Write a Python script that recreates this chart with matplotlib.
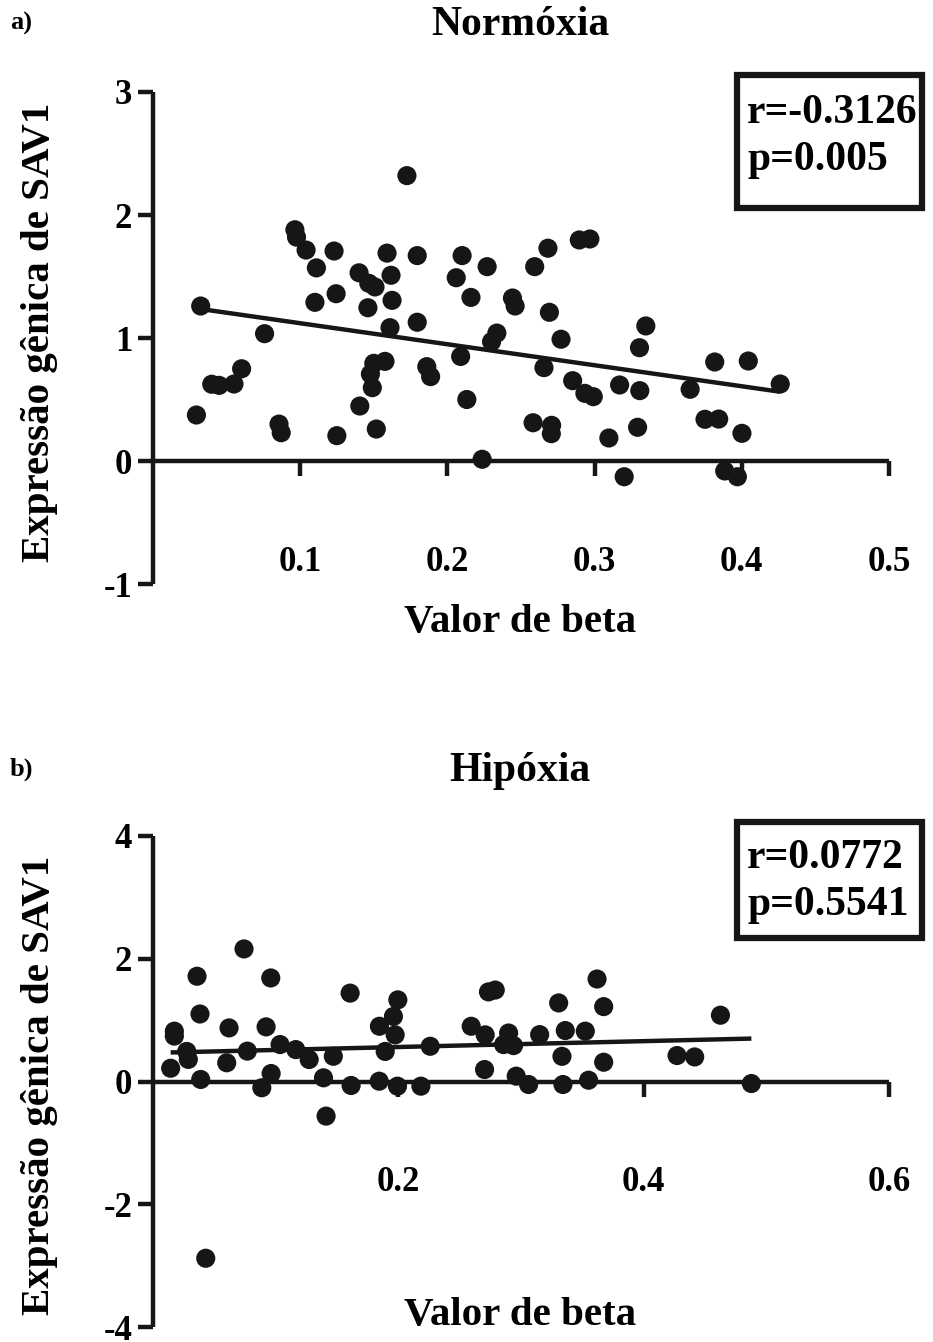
import numpy as np
import matplotlib
matplotlib.use("Agg")
import matplotlib.pyplot as plt
from matplotlib.patches import Rectangle

plt.rcParams['font.family'] = ['Liberation Serif', 'DejaVu Serif']
plt.rcParams['font.weight'] = 'bold'

# ---- Data: Normóxia ----
norm_beta = [0.1725, 0.0964, 0.0975, 0.104, 0.123, 0.111, 0.159, 0.1795, 0.210, 0.227,
             0.140, 0.1617, 0.1466, 0.1508, 0.206, 0.216, 0.110, 0.1244, 0.1624, 0.146,
             0.1795, 0.161, 0.0324, 0.0758, 0.2300, 0.209, 0.1576, 0.150, 0.1477, 0.149,
             0.186, 0.1886, 0.0602, 0.055, 0.0449, 0.0399, 0.2132, 0.1405, 0.0295, 0.0856,
             0.0871, 0.1517, 0.1249, 0.2236, 0.2683, 0.2593, 0.2896, 0.2968, 0.2442, 0.246,
             0.2693, 0.2772, 0.2336, 0.3348, 0.3305, 0.2656, 0.2851, 0.2934, 0.2991, 0.317,
             0.3307, 0.3649, 0.3816, 0.4044, 0.4261, 0.2582, 0.2708, 0.2706, 0.3097, 0.3292,
             0.375, 0.3843, 0.4001, 0.3201, 0.3884, 0.397]
norm_sav1 = [2.32, 1.88, 1.82, 1.715, 1.707, 1.57, 1.69, 1.67, 1.67, 1.58,
             1.53, 1.51, 1.445, 1.415, 1.49, 1.33, 1.29, 1.36, 1.306, 1.246,
             1.128, 1.084, 1.26, 1.035, 0.97, 0.85, 0.81, 0.794, 0.707, 0.596,
             0.767, 0.686, 0.75, 0.626, 0.615, 0.624, 0.50, 0.447, 0.374, 0.30,
             0.23, 0.26, 0.206, 0.014, 1.73, 1.58, 1.797, 1.805, 1.325, 1.26,
             1.209, 0.99, 1.04, 1.098, 0.921, 0.759, 0.653, 0.55, 0.523, 0.618,
             0.572, 0.583, 0.805, 0.813, 0.626, 0.311, 0.29, 0.222, 0.187, 0.274,
             0.339, 0.341, 0.225, -0.128, -0.081, -0.128]

# ---- Data: Hipóxia ----
hip_beta = [0.0742, 0.0359, 0.096, 0.0383, 0.062, 0.0922, 0.0174, 0.0174, 0.0275, 0.0288,
            0.0144, 0.0389, 0.0601, 0.0769, 0.1036, 0.1164, 0.1273, 0.147, 0.0963, 0.0887,
            0.139, 0.1411, 0.1607, 0.1996, 0.196, 0.1846, 0.1974, 0.1893, 0.226, 0.1615,
            0.1844, 0.1993, 0.2184, 0.2735, 0.279, 0.2594, 0.2708, 0.2703, 0.2858, 0.2939,
            0.2899, 0.3152, 0.3307, 0.3361, 0.3524, 0.362, 0.3674, 0.3334, 0.3674, 0.2961,
            0.3062, 0.3342, 0.3551, 0.4272, 0.4416, 0.4626, 0.4878, 0.043]
hip_sav1 = [2.16, 1.715, 1.687, 1.10, 0.873, 0.89, 0.82, 0.74, 0.49, 0.36,
            0.216, 0.033, 0.305, 0.495, 0.602, 0.52, 0.358, 0.411, 0.13, -0.102,
            0.06, -0.564, 1.44, 1.33, 1.06, 0.90, 0.76, 0.49, 0.574, -0.065,
            0.005, -0.076, -0.076, 1.46, 1.49, 0.90, 0.76, 0.195, 0.602, 0.585,
            0.79, 0.764, 1.28, 0.83, 0.82, 1.67, 1.22, 0.41, 0.314, 0.087,
            -0.049, -0.049, 0.021, 0.423, 0.40, 1.08, -0.033, -2.88]

panels = [
    dict(letter="a)", title="Normóxia", x=norm_beta, y=norm_sav1,
         xlim=(0, 0.5), ylim=(-1, 3), xticks=[0.1, 0.2, 0.3, 0.4, 0.5],
         yticks=[-1, 0, 1, 2, 3], stats=["r=-0.3126", "p=0.005"]),
    dict(letter="b)", title="Hipóxia", x=hip_beta, y=hip_sav1,
         xlim=(0, 0.6), ylim=(-4, 4), xticks=[0.2, 0.4, 0.6],
         yticks=[-4, -2, 0, 2, 4], stats=["r=0.0772", "p=0.5541"]),
]

W, H = 933, 1342
fig = plt.figure(figsize=(W / 100, H / 100), dpi=100)
fig.patch.set_facecolor('white')

def fx(px):
    return px / W

def fy(py):
    return 1 - py / H

layouts = [
    dict(ax=(153, 889, 92, 584), title_y=25, box=(737, 922, 75, 208), lines_y=(113, 160),
         xl_y=622, yl_c=332),
    dict(ax=(153, 889, 836, 1327), title_y=771, box=(737, 922, 822, 938), lines_y=(858, 905),
         xl_y=1316, yl_c=1085),
]

ink = '#161616'
for p, L in zip(panels, layouts):
    l, r, t, b = L['ax']
    ax = fig.add_axes([fx(l), fy(b), fx(r) - fx(l), fy(t) - fy(b)])
    x = np.array(p['x'])
    y = np.array(p['y'])
    ax.scatter(x, y, s=190, color=ink, edgecolors='none', zorder=3, clip_on=False)
    slope, intercept = np.polyfit(x, y, 1)
    xx = np.array([x.min(), x.max()])
    ax.plot(xx, slope * xx + intercept, color=ink, lw=3.2, zorder=2,
            solid_capstyle='butt')
    ax.set_xlim(*p['xlim'])
    ax.set_ylim(*p['ylim'])
    for s in ['top', 'right']:
        ax.spines[s].set_visible(False)
    ax.spines['bottom'].set_position(('data', 0))
    ax.spines['bottom'].set_bounds(*p['xlim'])
    ax.spines['left'].set_bounds(*p['ylim'])
    for s in ['bottom', 'left']:
        ax.spines[s].set_linewidth(3.2)
        ax.spines[s].set_color(ink)
        ax.spines[s].set_capstyle('butt')
    ax.set_xticks(p['xticks'])
    ax.set_yticks(p['yticks'])
    ax.set_xticklabels([f"{v:g}" for v in p['xticks']])
    ax.set_yticklabels([f"{v:g}" for v in p['yticks']])
    ax.tick_params(axis='x', direction='out', length=11, width=3.2, color=ink,
                   labelsize=25, pad=50)
    ax.tick_params(axis='y', direction='out', length=11, width=3.2, color=ink,
                   labelsize=25, pad=4)
    for lab in ax.get_xticklabels() + ax.get_yticklabels():
        lab.set_fontweight('bold')
    ax.patch.set_alpha(0)

    ax.set_xlabel("Valor de beta", fontsize=29.5, fontweight='bold')
    ax.set_ylabel("Expressão gênica de SAV1", fontsize=29.5, fontweight='bold')
    ax.xaxis.set_label_coords((520 - l) / (r - l), (b - L['xl_y']) / (b - t))
    ax.xaxis.label.set_verticalalignment('center')
    ax.yaxis.set_label_coords((40 - l) / (r - l), (b - L['yl_c']) / (b - t))
    ax.yaxis.label.set_verticalalignment('center')

    fig.text(fx(520), fy(L['title_y']), p['title'], fontsize=30, fontweight='bold',
             ha='center', va='center')
    fig.text(fx(10), fy(L['title_y'] - 2), p['letter'], fontsize=19, fontweight='bold',
             ha='left', va='center')

    bx0, bx1, by0, by1 = L['box']
    fig.patches.append(Rectangle((fx(bx0), fy(by1)), fx(bx1) - fx(bx0), fy(by0) - fy(by1),
                                 transform=fig.transFigure, fill=False, lw=4.5,
                                 edgecolor=ink))
    for txt, ly in zip(p['stats'], L['lines_y']):
        fig.text(fx(747), fy(ly), txt, fontsize=30, fontweight='bold',
                 ha='left', va='center')

fig.savefig("out.png", dpi=100)
